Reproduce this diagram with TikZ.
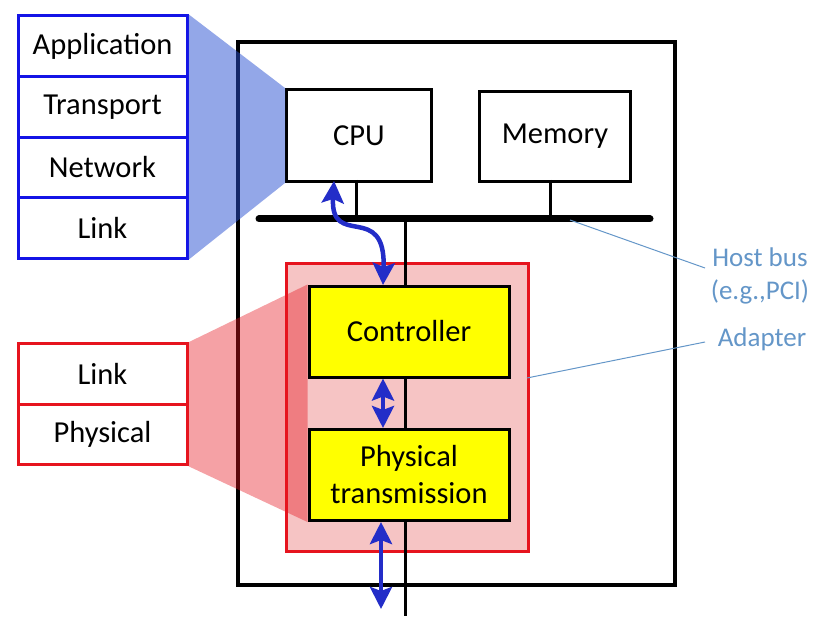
\documentclass[tikz,border=0pt]{standalone}
\usepackage{fontspec}
\setmainfont{Carlito}
\usetikzlibrary{arrows.meta}
\definecolor{stackblue}{RGB}{20,20,230}
\definecolor{stackred}{RGB}{230,20,30}
\definecolor{fanblue}{RGB}{40,80,210}
\definecolor{adapterpink}{RGB}{246,196,196}
\definecolor{arrowblue}{RGB}{35,45,200}
\definecolor{labelblue}{RGB}{100,150,200}
\definecolor{chipyellow}{RGB}{255,255,0}
\begin{document}
\begin{tikzpicture}[x=1pt,y=-1pt,
  every node/.style={font=\fontsize{30.5}{37}\selectfont, inner sep=0pt},
  cell/.style={draw, line width=3pt, fill=white, minimum width=169pt, minimum height=60.5pt},
  hwbox/.style={draw=black, line width=3pt, fill=white, anchor=north west},
  chip/.style={draw=black, line width=3pt, fill=chipyellow, minimum width=200pt, minimum height=91pt, align=center},
  dbl/.style={arrowblue, line width=4.5pt, {Stealth[length=22pt,width=22pt,inset=4pt]}-{Stealth[length=22pt,width=22pt,inset=4pt]}},
  leader/.style={labelblue, line width=1pt},
  lbl/.style={text=labelblue, align=center, font=\fontsize{27}{33}\selectfont}]
\useasboundingbox (0,0) rectangle (832,620);
% host frame
\node[draw=black, line width=4pt, minimum width=437pt, minimum height=543pt, anchor=north west] (host) at (236,40) {};
% CPU and memory
\node[hwbox, minimum width=145pt, minimum height=92pt] (cpu) at (285,88) {};
\node at (cpu.center) {CPU};
\node[hwbox, minimum width=151pt, minimum height=90pt] (mem) at (478,90) {};
\node at (mem.center) {Memory};
% bus
\coordinate (busL) at (259,219);
\coordinate (busR) at (650,219);
\draw[line width=7pt, line cap=round] (busL) -- (busR);
\draw[line width=3pt] (356,180) -- (356,219);
\draw[line width=3pt] (550,180) -- (550,219);
\coordinate (busT) at (405,219);
\coordinate (busB) at (405,616);
% adapter
\node[draw=stackred, line width=3pt, fill=adapterpink, minimum width=242pt, minimum height=288pt, anchor=north west] (adapter) at (285,262) {};
\draw[line width=3pt] (busT) -- (busB);
\node[chip] (ctrl) at (409,331.5) {Controller};
\node[chip] (phys) at (409,475) {Physical\\transmission};
% protocol stacks
\node[cell, draw=stackblue] (app) at (102.5,46) {Application};
\node[cell, draw=stackblue] (trans) at (102.5,107) {Transport};
\node[cell, draw=stackblue] (net) at (102.5,167.5) {Network};
\node[cell, draw=stackblue] (blink) at (102.5,228) {Link};
\node[cell, draw=stackred] (rlink) at (102.5,374) {Link};
\node[cell, draw=stackred] (rphys) at (102.5,434.5) {Physical};
% fans
\fill[fanblue, opacity=0.5] (app.north east) -- (cpu.north west) -- (cpu.south west) -- (blink.south east) -- cycle;
\fill[stackred, opacity=0.4] (rlink.north east) -- (ctrl.north west) -- (phys.south west) -- (rphys.south east) -- cycle;
% arrows
\coordinate (cpuArr) at (334,181);
\coordinate (ctrlArr) at (383,285);
\draw[dbl] (cpuArr) .. controls (330,250) and (386,200) .. (ctrlArr);
\draw[dbl] (ctrl.south -| ctrlArr) -- (phys.north -| ctrlArr);
\coordinate (extArr) at (381,609);
\draw[dbl] (phys.south -| extArr) -- (extArr);
% labels
\node[lbl] (hostbus) at (760,276) {Host bus\\(e.g.,PCI)};
\node[lbl] (adlbl) at (762,339) {Adapter};
\coordinate (hbPt) at (570,220);
\coordinate (adPt) at (527,378);
\draw[leader] (hbPt) -- (705,268);
\draw[leader] (adPt) -- (705,342);
\end{tikzpicture}
\end{document}
